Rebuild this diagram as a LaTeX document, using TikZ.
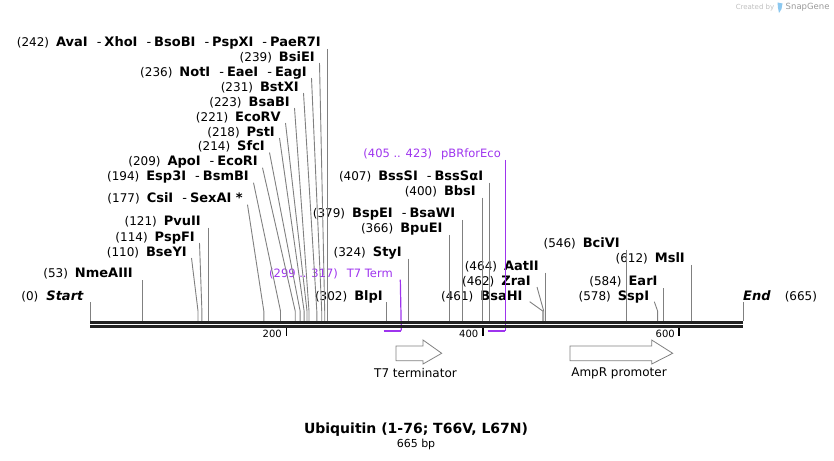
\documentclass[tikz,border=0pt]{standalone}
\usepackage{fontspec}
\setmainfont{DejaVu Sans}
\usepackage{xcolor}
\usepackage{tikz}
\usetikzlibrary{calc, positioning}

\definecolor{sitegray}{RGB}{128,128,128}
\definecolor{featpurple}{RGB}{158,52,238}
\definecolor{strandcol}{RGB}{34,34,34}
\definecolor{logoblue}{RGB}{140,200,240}
\newcommand{\dsh}{\hspace{9pt}-\hspace{3pt}}
\newcommand{\sitepos}[1]{{\fontsize{12}{14}\selectfont(#1)}\hspace{7pt}}

\begin{document}
\begin{tikzpicture}[x=1pt, y=-1pt,
        lab/.style={anchor=base east, inner sep=0pt, font=\fontsize{13}{15}\selectfont},
        featlab/.style={anchor=base east, inner sep=0pt, text=featpurple, font=\fontsize{11.5}{14}\selectfont},
        siteline/.style={draw=sitegray, line width=0.9pt},
        featline/.style={draw=featpurple, line width=1.2pt},
        featbar/.style={draw=featpurple, line width=2pt},
        strand/.style={draw=strandcol, line width=2.8pt},
        tickmark/.style={draw=black, line width=1.6pt},
        ticklab/.style={anchor=base east, inner sep=0pt, font=\fontsize{10}{12}\selectfont},
        featarrow/.style={draw=gray, fill=white, line width=0.8pt},
        arrowlab/.style={inner sep=0pt, font=\fontsize{12}{14}\selectfont}]
    \useasboundingbox (0,0) rectangle (834,460);

    % positions on the top strand
    \coordinate (bend) at (0,311);
    \coordinate (s0)   at (90,321);
    \coordinate (s53)  at (142.0,321);
    \coordinate (s110) at (198.0,321);
    \coordinate (s114) at (201.9,321);
    \coordinate (s121) at (208.8,321);
    \coordinate (s177) at (263.8,321);
    \coordinate (s194) at (280.5,321);
    \coordinate (s209) at (295.2,321);
    \coordinate (s214) at (300.1,321);
    \coordinate (s218) at (304.1,321);
    \coordinate (s221) at (307.0,321);
    \coordinate (s223) at (309.0,321);
    \coordinate (s231) at (316.8,321);
    \coordinate (s236) at (321.7,321);
    \coordinate (s239) at (324.7,321);
    \coordinate (s242) at (327.6,321);
    \coordinate (s302) at (386.5,321);
    \coordinate (s324) at (408.2,321);
    \coordinate (s366) at (449.4,321);
    \coordinate (s379) at (462.2,321);
    \coordinate (s400) at (482.8,321);
    \coordinate (s407) at (489.7,321);
    \coordinate (s461) at (542.7,321);
    \coordinate (s462) at (543.7,321);
    \coordinate (s464) at (545.6,321);
    \coordinate (s546) at (626.1,321);
    \coordinate (s578) at (657.6,321);
    \coordinate (s584) at (663.5,321);
    \coordinate (s612) at (691.0,321);
    \coordinate (s665) at (743,321);
    % feature ends below the strands
    \coordinate (f299) at (383.6,330.5);
    \coordinate (f317) at (401.3,330.5);
    \coordinate (f405) at (487.7,330.5);
    \coordinate (f423) at (505.4,330.5);

    % enzyme labels
    \node[lab] (l242) at (321,46.5) {\sitepos{242}\textbf{AvaI}\dsh\textbf{XhoI}\dsh\textbf{BsoBI}\dsh\textbf{PspXI}\dsh\textbf{PaeR7I}};
    \node[lab] (l239) at (315,61) {\sitepos{239}\textbf{BsiEI}};
    \node[lab] (l236) at (307,76) {\sitepos{236}\textbf{NotI}\dsh\textbf{EaeI}\dsh\textbf{EagI}};
    \node[lab] (l231) at (299,91) {\sitepos{231}\textbf{BstXI}};
    \node[lab] (l223) at (290,106) {\sitepos{223}\textbf{BsaBI}};
    \node[lab] (l221) at (281,121) {\sitepos{221}\textbf{EcoRV}};
    \node[lab] (l218) at (275,136) {\sitepos{218}\textbf{PstI}};
    \node[lab] (l214) at (265,150.5) {\sitepos{214}\textbf{SfcI}};
    \node[lab] (l209) at (258,165.7) {\sitepos{209}\textbf{ApoI}\dsh\textbf{EcoRI}};
    \node[lab] (l194) at (249,180.7) {\sitepos{194}\textbf{Esp3I}\dsh\textbf{BsmBI}};
    \node[lab] (l177) at (243,202.7) {\sitepos{177}\textbf{CsiI}\dsh\textbf{SexAI *}};
    \node[lab] (l121) at (201,225) {\sitepos{121}\textbf{PvuII}};
    \node[lab] (l114) at (195,241) {\sitepos{114}\textbf{PspFI}};
    \node[lab] (l110) at (187,256) {\sitepos{110}\textbf{BseYI}};
    \node[lab] (l53)  at (133,277.7) {\sitepos{53}\textbf{NmeAIII}};
    \node[lab] (l0)   at (84,300.7) {{\fontsize{12}{14}\selectfont(0)}\hspace{8pt}\textbf{\itshape Start}};
    \node[lab] (l302) at (383,300.7) {\sitepos{302}\textbf{BlpI}};
    \node[lab] (l324) at (402,256) {\sitepos{324}\textbf{StyI}};
    \node[lab] (l366) at (442.7,232.3) {\sitepos{366}\textbf{BpuEI}};
    \node[lab] (l379) at (455.3,217.3) {\sitepos{379}\textbf{BspEI}\dsh\textbf{BsaWI}};
    \node[lab] (l400) at (476,195) {\sitepos{400}\textbf{BbsI}};
    \node[lab] (l407) at (483.3,180) {\sitepos{407}\textbf{BssSI}\dsh\textbf{BssSαI}};
    \node[lab] (l461) at (522.7,300.7) {\sitepos{461}\textbf{BsaHI}};
    \node[lab] (l462) at (531,285) {\sitepos{462}\textbf{ZraI}};
    \node[lab] (l464) at (539,270) {\sitepos{464}\textbf{AatII}};
    \node[lab] (l546) at (620,247.3) {\sitepos{546}\textbf{BciVI}};
    \node[lab] (l578) at (649.3,300.7) {\sitepos{578}\textbf{SspI}};
    \node[lab] (l584) at (657.7,285.7) {\sitepos{584}\textbf{EarI}};
    \node[lab] (l612) at (685,262.3) {\sitepos{612}\textbf{MslI}};
    \node[lab, anchor=base west] (l665) at (743,300.7) {\textbf{\itshape End}\hspace{14pt}{\fontsize{12}{14}\selectfont(665)}};
    \node[featlab] (t7lab) at (393,277.7) {(299 .. 317)\hspace{9pt}T7 Term};
    \node[featlab] (pbrlab) at (501,157.3) {(405 .. 423)\hspace{9pt}pBRforEco};

    % straight site lines
    \draw[siteline] ($(l242.base -| s242)+(0,2.5)$) -- (s242);
    \draw[siteline] ($(l121.base -| s121)+(0,2.5)$) -- (s121);
    \draw[siteline] ($(l53.base -| s53)+(0,2.5)$) -- (s53);
    \draw[siteline] ($(l0.base -| s0)+(0,1.5)$) -- (s0);
    \draw[siteline] ($(l302.base -| s302)+(0,1.5)$) -- (s302);
    \draw[siteline] ($(l324.base -| s324)+(0,2.5)$) -- (s324);
    \draw[siteline] ($(l366.base -| s366)+(0,2.5)$) -- (s366);
    \draw[siteline] ($(l379.base -| s379)+(0,2.5)$) -- (s379);
    \draw[siteline] ($(l400.base -| s400)+(0,2.5)$) -- (s400);
    \draw[siteline] ($(l407.base -| s407)+(0,2.5)$) -- (s407);
    \draw[siteline] ($(l464.base -| s464)+(0,2.5)$) -- (s464);
    \draw[siteline] ($(l546.base -| s546)+(0,2.5)$) -- (s546);
    \draw[siteline] ($(l584.base -| s584)+(0,2.5)$) -- (s584);
    \draw[siteline] ($(l612.base -| s612)+(0,2.5)$) -- (s612);
    \draw[siteline] ($(l665.base west)+(0,1.5)$) -- (s665);
    % bent site lines
    \draw[siteline] ($(l239.base east)+(4.5,2)$) -- (s239 |- bend) -- (s239);
    \draw[siteline] ($(l236.base east)+(4.5,2)$) -- (s236 |- bend) -- (s236);
    \draw[siteline] ($(l231.base east)+(4.5,2)$) -- (s231 |- bend) -- (s231);
    \draw[siteline] ($(l223.base east)+(4.5,2)$) -- (s223 |- bend) -- (s223);
    \draw[siteline] ($(l221.base east)+(4.5,2)$) -- (s221 |- bend) -- (s221);
    \draw[siteline] ($(l218.base east)+(4.5,2)$) -- (s218 |- bend) -- (s218);
    \draw[siteline] ($(l214.base east)+(4.5,2)$) -- (s214 |- bend) -- (s214);
    \draw[siteline] ($(l209.base east)+(4.5,2)$) -- (s209 |- bend) -- (s209);
    \draw[siteline] ($(l194.base east)+(4.5,2)$) -- (s194 |- bend) -- (s194);
    \draw[siteline] ($(l177.base east)+(4.5,2)$) -- (s177 |- bend) -- (s177);
    \draw[siteline] ($(l114.base east)+(4.5,2)$) -- (s114 |- bend) -- (s114);
    \draw[siteline] ($(l110.base east)+(4.5,2)$) -- (s110 |- bend) -- (s110);
    \draw[siteline] ($(l461.base east)+(7,1)$) -- (s461 |- bend) -- (s461);
    \draw[siteline] ($(l462.base east)+(6,2)$) -- (s462 |- bend) -- (s462);
    \draw[siteline] ($(l578.base east)+(5,1)$) -- (s578 |- bend) -- (s578);

    % primer / feature marks
    \draw[featline] ($(t7lab.base -| f317)+(-1,2)$) -- (f317);
    \draw[featbar] (f299) -- (f317);
    \draw[featline] ($(pbrlab.base -| f423)+(0,2.5)$) -- (f423);
    \draw[featbar] (f405) -- (f423);

    % the two strands
    \draw[strand] (90,322.5) -- (743,322.5);
    \draw[strand] (90,326.7) -- (743,326.7);

    % ruler
    \draw[tickmark] (286.4,328) -- (286.4,335.5);
    \draw[tickmark] (482.8,328) -- (482.8,335.5);
    \draw[tickmark] (679.2,328) -- (679.2,335.5);
    \node[ticklab] (t200) at (282,337.5) {200};
    \node[ticklab] (t400) at (478.5,337.5) {400};
    \node[ticklab] (t600) at (675,337.5) {600};

    % features
    \draw[featarrow] (396,346) -- (423,346) -- (423,340) -- (441.7,353.3)
        -- (423,364) -- (423,360.7) -- (396,360.7) -- cycle;
    \draw[featarrow] (570,346) -- (651.7,346) -- (651.7,340) -- (672.7,353.3)
        -- (651.7,364) -- (651.7,360.7) -- (570,360.7) -- cycle;
    \node[arrowlab] (t7name) at (415.5,373.5) {T7 terminator};
    \node[arrowlab] (ampname) at (619,373.5) {AmpR promoter};

    % name and length
    \node[inner sep=0pt, font=\bfseries\fontsize{14}{16}\selectfont] (title) at (416,429.5) {Ubiquitin (1-76; T66V, L67N)};
    \node[inner sep=0pt, font=\fontsize{11}{13}\selectfont] (size) at (416,444) {665 bp};

    % credit
    \node[inner sep=0pt, text=black!25, font=\fontsize{7}{8}\selectfont] (credit) at (755,7.5) {Created by};
    \fill[logoblue] (777.5,2.5) -- (782.5,3.5) -- (781.5,9) -- (779,13) -- (778,8) -- cycle;
    \node[inner sep=0pt, text=black!40, font=\fontsize{8.5}{10}\selectfont, anchor=west] (snapgene) at (785.5,7.5) {SnapGene};
\end{tikzpicture}
\end{document}
